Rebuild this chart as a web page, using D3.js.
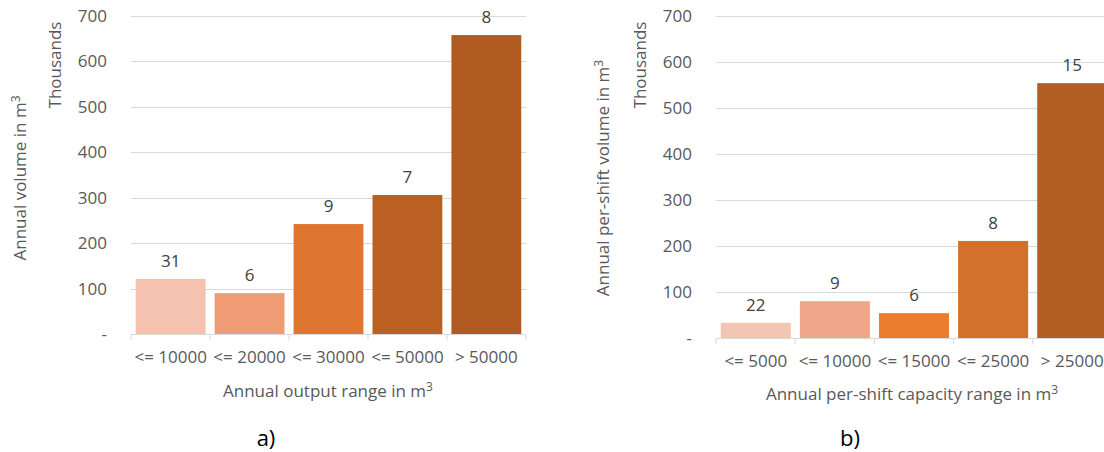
<!DOCTYPE html>
<html><head><meta charset="utf-8">
<script src="https://cdn.jsdelivr.net/npm/d3@7"></script>
<style>body{margin:0;background:#fff}svg{display:block}text{font-family:"Open Sans",sans-serif}</style>
</head><body><svg id="c" width="1104" height="452"></svg>
<script>
const yTicks = [0,100,200,300,400,500,600,700];
const catsA = ["<= 10000","<= 20000","<= 30000","<= 50000","> 50000"];
const valsA = [121,90,242,306,658];
const countsA = ["31","6","9","7","8"];
const colorsA = ["#F4C2AE","#EF9B74","#DF7630","#BA6023","#B15B22"];
const catsB = ["<= 5000","<= 10000","<= 15000","<= 25000","> 25000"];
const valsB = [33,80,54,211,554];
const countsB = ["22","9","6","8","15"];
const colorsB = ["#F4C5B3","#F0A688","#EC7C30","#D2702C","#B15D23"];

const FS = 17;
const svg = d3.select("#c");

function panel(o){
  const g = svg.append("g");
  const x = d3.scaleBand().domain(o.cats).range([o.x0, o.x1]).paddingInner(0.115).paddingOuter(0.06);
  const y = d3.scaleLinear().domain([0,700]).range([o.y0, o.y1]);
  g.selectAll(".grid").data(yTicks.filter(d=>d>0)).join("line")
    .attr("x1", o.x0).attr("x2", o.x1).attr("y1", d=>Math.round(y(d))+0.5).attr("y2", d=>Math.round(y(d))+0.5)
    .attr("stroke","#d9d9d9").attr("stroke-width",1);
  const ya = d3.axisLeft(y).tickValues(yTicks).tickSize(0).tickPadding(0)
    .tickFormat(d => d===0 ? "-" : d);
  const yg = g.append("g").attr("transform",`translate(${o.yLabX},0)`).call(ya);
  yg.attr("font-size",null).attr("font-family",null);
  yg.select(".domain").remove();
  yg.selectAll("text").attr("fill","#595959").attr("font-size",FS).style("font-size",FS+"px");
  g.selectAll(".bar").data(o.vals).join("rect")
    .attr("x",(d,i)=>x(o.cats[i])).attr("width",x.bandwidth())
    .attr("y",d=>y(d)).attr("height",d=>y(0)-y(d))
    .attr("fill",(d,i)=>o.colors[i]);
  g.selectAll(".lab").data(o.vals).join("text")
    .attr("x",(d,i)=>x(o.cats[i])+x.bandwidth()/2).attr("y",d=>y(d)-12)
    .attr("text-anchor","middle").attr("fill","#404040").style("font-size",FS+"px")
    .text((d,i)=>o.counts[i]);
  const bounds = d3.range(o.cats.length+1).map(i=>o.x0 + i*(o.x1-o.x0)/o.cats.length);
  g.append("line").attr("x1",o.x0).attr("x2",o.x1).attr("y1",y(0)+0.5).attr("y2",y(0)+0.5).attr("stroke","#d9d9d9");
  g.selectAll(".tk").data(bounds).join("line")
    .attr("x1",d=>d).attr("x2",d=>d).attr("y1",y(0)).attr("y2",y(0)+6).attr("stroke","#d9d9d9");
  g.selectAll(".xl").data(o.cats).join("text")
    .attr("x",d=>x(d)+x.bandwidth()/2).attr("y",y(0)+29)
    .attr("text-anchor","middle").attr("fill","#595959").style("font-size",FS+"px").text(d=>d);
  const xt = g.append("text").attr("x",o.xTitleX).attr("y",o.xTitleY).attr("text-anchor","middle")
    .attr("fill","#595959").style("font-size","17px");
  xt.append("tspan").text(o.xTitle);
  xt.append("tspan").attr("dy",-6).style("font-size","12px").text("3");
  const yt = g.append("text").attr("transform",`translate(${o.yTitleX},${o.yTitleY}) rotate(-90)`)
    .attr("text-anchor","middle").attr("fill","#595959").style("font-size","17px");
  yt.append("tspan").text(o.yTitle);
  yt.append("tspan").attr("dy",-6).style("font-size","12px").text("3");
  g.append("text").attr("transform",`translate(${o.thX},65) rotate(-90)`)
    .attr("text-anchor","middle").attr("fill","#595959").style("font-size","17px").text("Thousands");
  g.append("text").attr("x",o.capX).attr("y",446).attr("text-anchor","middle")
    .attr("fill","#000").style("font-size","22px").text(o.cap);
}

panel({cats:catsA, vals:valsA, counts:countsA, colors:colorsA,
  x0:131, x1:526, y0:334, y1:16, yLabX:107,
  xTitle:"Annual output range in m", xTitleX:328, xTitleY:397, yTitle:"Annual volume in m", yTitleX:26, yTitleY:178, thX:61, capX:266, cap:"a)"});
panel({cats:catsB, vals:valsB, counts:countsB, colors:colorsB,
  x0:716, x1:1112, y0:338, y1:16, yLabX:692,
  xTitle:"Annual per-shift capacity range in m", xTitleX:912, xTitleY:400, yTitle:"Annual per-shift volume in m", yTitleX:609, yTitleY:178, thX:646, capX:850, cap:"b)"});
</script></body></html>
